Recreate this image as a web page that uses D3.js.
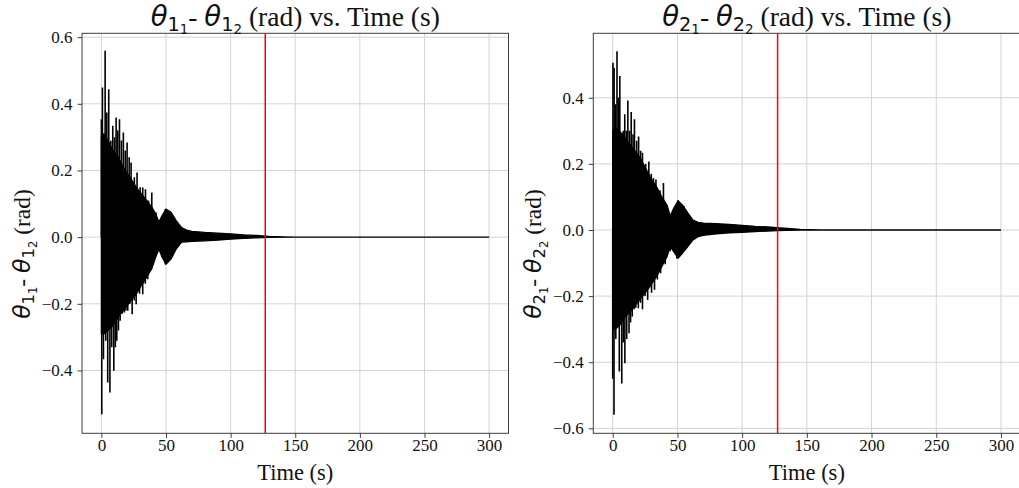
<!DOCTYPE html>
<html><head><meta charset="utf-8">
<script src="https://cdn.jsdelivr.net/npm/d3@7"></script>
<style>body{margin:0;background:#fff;} svg{display:block}</style>
</head><body><svg id="c" width="1019" height="488"></svg>
<script>
// ---------------- data ----------------
const xTicks = [0, 50, 100, 150, 200, 250, 300];
const yTicksLeft = [-0.4, -0.2, 0.0, 0.2, 0.4, 0.6];
const yTicksRight = [-0.6, -0.4, -0.2, 0.0, 0.2, 0.4];

// left panel: θ1_1 - θ1_2 ; body envelope of the fast oscillation
const bodyTimeL = [0, 2, 5, 9, 13, 17, 22, 27, 31, 35, 39, 42, 44.5, 47, 50, 54, 58, 62, 66, 70, 80, 90, 100, 110, 120, 130, 140, 150, 300];
const bodyUpL   = [0.30, 0.31, 0.29, 0.26, 0.24, 0.21, 0.18, 0.15, 0.13, 0.11, 0.09, 0.07, 0.045, 0.065, 0.084, 0.074, 0.049, 0.029, 0.021, 0.017, 0.014, 0.012, 0.010, 0.007, 0.005, 0.002, 0.001, 0, 0];
const bodyLoL   = [-0.29, -0.29, -0.28, -0.265, -0.24, -0.22, -0.195, -0.17, -0.145, -0.12, -0.095, -0.06, -0.036, -0.06, -0.081, -0.065, -0.035, -0.015, -0.014, -0.013, -0.011, -0.009, -0.006, -0.004, -0.002, -0.001, 0, 0, 0];
// left panel: peak excursions (spikes)
const peakTimeL = [0.0, 0.8, 1.5, 2.9, 4.2, 5.7, 7.3, 8.8, 10.2, 11.4, 12.7, 14.0, 15.5, 17.0, 18.5, 19.9, 21.5, 23.0, 25.5, 27.6, 30.0, 32.0, 34.1, 36.5, 39.0, 42.3, 49.5, 52.6,
                   0.3, 1.6, 3.4, 4.9, 6.6, 8.0, 9.6, 10.8, 11.9, 13.2, 14.5, 16.2, 17.8, 19.0, 20.4, 22.0, 23.8, 25.5, 26.9, 29.5, 32.0, 34.0, 35.9, 38.5, 42.3, 49.5, 53.9];
const peakValL  = [0.354, 0.449, 0.30, 0.559, 0.374, 0.444, 0.289, 0.334, 0.30, 0.359, 0.32, 0.354, 0.29, 0.314, 0.26, 0.284, 0.24, 0.224, 0.18, 0.194, 0.15, 0.149, 0.144, 0.11, 0.134, 0.074, 0.084, 0.079,
                   -0.531, -0.366, -0.311, -0.436, -0.466, -0.33, -0.401, -0.33, -0.311, -0.28, -0.251, -0.23, -0.226, -0.22, -0.221, -0.20, -0.231, -0.19, -0.201, -0.17, -0.171, -0.14, -0.126, -0.096, -0.051, -0.081, -0.061];

// right panel: θ2_1 - θ2_2
const bodyTimeR = [0, 2, 5, 9, 13, 17, 21, 25, 29, 34, 38, 42, 44.5, 47, 50.5, 54, 58, 62, 66, 70, 80, 90, 100, 110, 120, 127, 135, 145, 160, 300];
const bodyUpR   = [0.30, 0.31, 0.30, 0.28, 0.26, 0.24, 0.22, 0.19, 0.16, 0.13, 0.10, 0.075, 0.042, 0.065, 0.088, 0.075, 0.052, 0.03, 0.023, 0.021, 0.019, 0.017, 0.014, 0.011, 0.009, 0.007, 0.005, 0.002, 0, 0];
const bodyLoR   = [-0.30, -0.30, -0.29, -0.265, -0.25, -0.23, -0.21, -0.19, -0.17, -0.14, -0.11, -0.08, -0.05, -0.065, -0.085, -0.07, -0.05, -0.03, -0.02, -0.016, -0.012, -0.009, -0.007, -0.005, -0.003, -0.002, -0.001, 0, 0, 0];
const peakTimeR = [0.2, 1.1, 2.2, 3.3, 4.3, 5.5, 7.2, 8.2, 9.3, 10.5, 11.7, 13.0, 14.3, 15.7, 16.8, 18.5, 20.0, 21.5, 23.0, 25.5, 27.9, 29.8, 31.5, 33.4, 36.5, 39.2, 44.0, 50.5, 54.9,
                   0.0, 1.0, 2.4, 5.1, 7.0, 8.2, 9.4, 10.8, 12.6, 13.8, 15.1, 16.5, 17.8, 19.8, 21.5, 23.0, 25.0, 27.0, 30.0, 32.3, 34.5, 37.0, 40.6, 44.4, 49.5, 53.4];
const peakValR  = [0.506, 0.491, 0.38, 0.541, 0.40, 0.466, 0.294, 0.30, 0.35, 0.30, 0.392, 0.30, 0.357, 0.29, 0.335, 0.27, 0.283, 0.24, 0.234, 0.20, 0.207, 0.17, 0.157, 0.153, 0.12, 0.142, 0.042, 0.09, 0.073,
                   -0.45, -0.559, -0.33, -0.428, -0.464, -0.34, -0.403, -0.33, -0.312, -0.28, -0.262, -0.24, -0.235, -0.237, -0.22, -0.24, -0.20, -0.212, -0.19, -0.181, -0.15, -0.131, -0.104, -0.064, -0.086, -0.07];

const markerTimes = [126.8, 127.4];   // red vertical lines (left, right)

// ---------------- drawing ----------------
const svg = d3.select('#c');
const SERIF = "'Liberation Serif', 'Times New Roman', serif";
const MATH = "'DejaVu Sans', sans-serif";

function mathText(sel, parts, size) {
  let cur = 0;
  parts.forEach(p => {
    const lvl = p.k === 's1' ? 1 : p.k === 's2' ? 2 : 0;
    const shift = [0, 0.17 * size, 0.28 * size][lvl];
    const fs = [size, 0.7 * size, 0.49 * size][lvl];
    const ts = sel.append('tspan').attr('dy', shift - cur).attr('font-size', fs).text(p.t);
    if (p.k === 'rm') ts.attr('font-family', SERIF);
    else ts.attr('font-family', MATH);
    if (p.k === 'th') ts.attr('font-style', 'italic');
    cur = shift;
  });
}

function drawPanel(cfg) {
  const x = d3.scaleLinear().domain([-15, 315]).range([cfg.x0, cfg.x1]);
  const y = d3.scaleLinear().domain(cfg.yDomain).range([cfg.y1, cfg.y0]);
  const g = svg.append('g');
  const cid = 'clip' + cfg.id;
  svg.append('clipPath').attr('id', cid).append('rect')
    .attr('x', cfg.x0).attr('y', cfg.y0).attr('width', cfg.x1 - cfg.x0).attr('height', cfg.y1 - cfg.y0);

  // grid
  g.append('g').selectAll('line').data(xTicks).join('line')
    .attr('x1', d => x(d)).attr('x2', d => x(d)).attr('y1', cfg.y0).attr('y2', cfg.y1)
    .attr('stroke', '#d3d3d3').attr('stroke-width', 1);
  g.append('g').selectAll('line').data(cfg.yTicks).join('line')
    .attr('x1', cfg.x0).attr('x2', cfg.x1).attr('y1', d => y(d)).attr('y2', d => y(d))
    .attr('stroke', '#d3d3d3').attr('stroke-width', 1);

  const dg = g.append('g').attr('clip-path', `url(#${cid})`);
  const body = cfg.bodyT.map((t, i) => ({t, up: cfg.bodyUp[i], lo: cfg.bodyLo[i]}));
  const area = d3.area().x(d => x(d.t)).y0(d => y(d.lo)).y1(d => y(d.up));
  dg.append('path').attr('d', area(body)).attr('fill', '#000').attr('stroke', '#000').attr('stroke-width', 1.3);
  const line = d3.line().x(d => x(d[0])).y(d => y(d[1]));
  dg.append('g').selectAll('path').data(cfg.peakT.map((t, i) => [[t, 0], [t, cfg.peakV[i]]])).join('path')
    .attr('d', line).attr('stroke', '#000').attr('stroke-width', 1.6).attr('fill', 'none');
  dg.append('line').attr('x1', x(cfg.marker)).attr('x2', x(cfg.marker)).attr('y1', cfg.y0).attr('y2', cfg.y1)
    .attr('stroke', '#f00').attr('stroke-width', 1.5);

  // frame
  g.append('rect').attr('x', cfg.x0).attr('y', cfg.y0).attr('width', cfg.x1 - cfg.x0).attr('height', cfg.y1 - cfg.y0)
    .attr('fill', 'none').attr('stroke', '#3c3c3c').attr('stroke-width', 1);

  // axes
  const xa = g.append('g').attr('transform', `translate(0,${cfg.y1})`)
    .call(d3.axisBottom(x).tickValues(xTicks).tickSize(4.5).tickPadding(4).tickFormat(d3.format('d')));
  const ya = g.append('g').attr('transform', `translate(${cfg.x0},0)`)
    .call(d3.axisLeft(y).tickValues(cfg.yTicks).tickSize(4.5).tickPadding(5).tickFormat(d3.format('.1f')));
  [xa, ya].forEach(a => {
    a.select('.domain').remove();
    a.selectAll('line').attr('stroke', '#3c3c3c');
    a.selectAll('text').attr('font-family', SERIF).attr('font-size', 17).attr('fill', '#111');
  });
  xa.selectAll('text').attr('dy', null).attr('y', 18.2);

  // title
  const tt = svg.append('text').attr('x', (cfg.x0 + cfg.x1) / 2).attr('y', 26).attr('text-anchor', 'middle')
    .attr('fill', '#111').style('white-space', 'pre');
  mathText(tt, cfg.title, 27.5);
  // x label
  svg.append('text').attr('x', (cfg.x0 + cfg.x1) / 2).attr('y', 480).attr('text-anchor', 'middle')
    .attr('font-family', SERIF).attr('font-size', 22.5).attr('fill', '#111').text('Time (s)');
  // y label
  const yl = svg.append('text').attr('transform', `translate(${cfg.ylx},254) rotate(-90)`).attr('text-anchor', 'middle')
    .attr('fill', '#111').style('white-space', 'pre');
  mathText(yl, cfg.ylabel, 23.5);
}

const lbl = (a) => [
  {t: 'θ', k: 'th'}, {t: a, k: 's1'}, {t: '1', k: 's2'}, {t: '- ', k: 'rm'},
  {t: 'θ', k: 'th'}, {t: a, k: 's1'}, {t: '2', k: 's2'}, {t: ' (rad)', k: 'rm'}];
const ttl = (a) => lbl(a).concat([{t: ' vs. Time (s)', k: 'rm'}]);

drawPanel({id: 'L', x0: 82, x1: 508.5, y0: 33.3, y1: 433.3, yDomain: [-0.5885, 0.6115], yTicks: yTicksLeft,
  bodyT: bodyTimeL, bodyUp: bodyUpL, bodyLo: bodyLoL, peakT: peakTimeL, peakV: peakValL, marker: markerTimes[0],
  title: ttl('1'), ylabel: lbl('1'), ylx: 30});
drawPanel({id: 'R', x0: 593.3, x1: 1020.4, y0: 33.3, y1: 433.3, yDomain: [-0.615, 0.595], yTicks: yTicksRight,
  bodyT: bodyTimeR, bodyUp: bodyUpR, bodyLo: bodyLoR, peakT: peakTimeR, peakV: peakValR, marker: markerTimes[1],
  title: ttl('2'), ylabel: lbl('2'), ylx: 541});
</script></body></html>
